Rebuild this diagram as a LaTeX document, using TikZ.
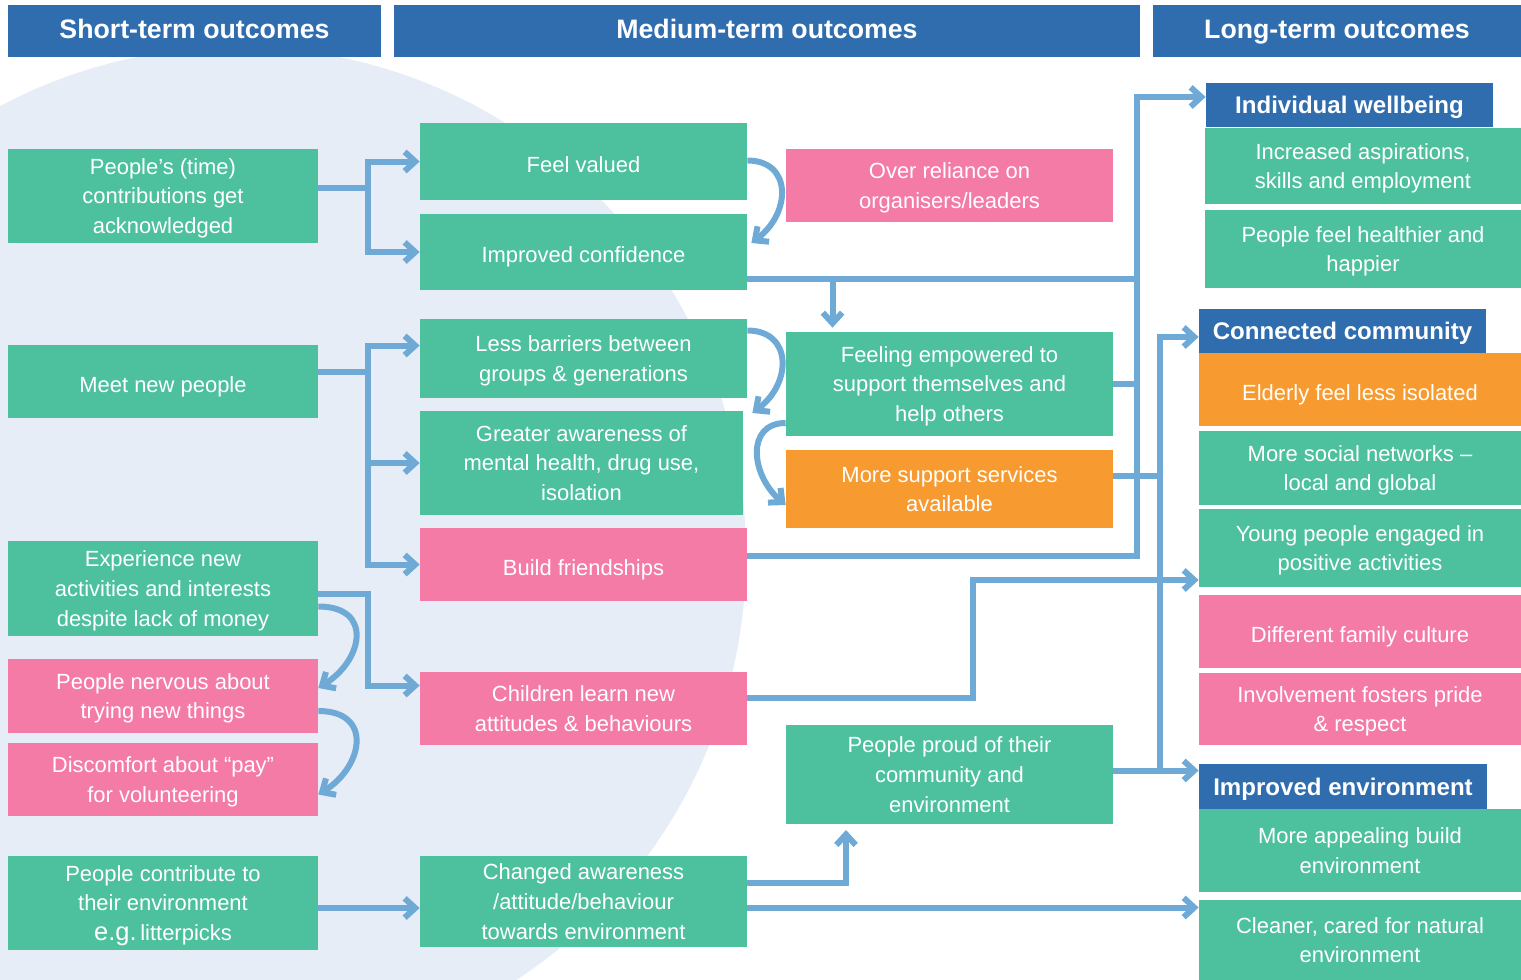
\documentclass[tikz,border=0pt]{standalone}
\usepackage{fontspec}
\setmainfont{Liberation Sans}
\usetikzlibrary{arrows.meta}

\definecolor{hdrblue}{RGB}{48,109,174}
\definecolor{boxgreen}{RGB}{77,193,158}
\definecolor{boxpink}{RGB}{243,123,165}
\definecolor{boxorange}{RGB}{247,154,47}
\definecolor{linkblue}{RGB}{111,170,214}
\definecolor{circfill}{RGB}{230,237,246}

\newlength\pu
\setlength\pu{0.02cm}

\begin{document}
\begin{tikzpicture}[x=0.02cm, y=-0.02cm,
    sz/.style 2 args={minimum width=#1\pu, minimum height=#2\pu},
    outbox/.style={fill=#1, text=white, align=center, inner sep=0pt, text depth=0pt,
        execute at begin node={\leavevmode\vrule width 0pt height 12pt depth 0pt}, font=\fontsize{12.5}{17}\selectfont},
    head/.style={fill=hdrblue, text=white, inner sep=0pt, text height=0.9em, text depth=0.05em, font=\fontsize{15.2}{18}\selectfont\bfseries},
    subhead/.style={fill=hdrblue, text=white, inner sep=0pt, text height=1.05em, text depth=0.05em, font=\fontsize{13.7}{16}\selectfont\bfseries},
    flow/.style={draw=linkblue, line width=6\pu},
    arr/.style={flow, -{Straight Barb[length=6pt,width=11pt]}}]
        \useasboundingbox (0,0) rectangle (1521,980);
        % background disc
        \begin{scope}
            \clip (0,0) rectangle (1521,980);
            \fill[circfill] (238,555) circle[radius=508];
        \end{scope}

        % column heads
        \node[head, sz={373}{52}] (hshort) at (194.5,31) {Short-term outcomes};
        \node[head, sz={746}{52}] (hmed) at (767,31) {Medium-term outcomes};
        \node[head, sz={368}{52}] (hlong) at (1337,31) {Long-term outcomes};

        % short-term
        \node[outbox=boxgreen, sz={310}{94}] (acknow) at (163,196) {People's (time)\\contributions get\\acknowledged};
        \node[outbox=boxgreen, sz={310}{73}] (meet) at (163,381.5) {Meet new people};
        \node[outbox=boxgreen, sz={310}{95}] (experience) at (163,588.5) {Experience new\\activities and interests\\despite lack of money};
        \node[outbox=boxpink, sz={310}{74}] (nervous) at (163,696) {People nervous about\\trying new things};
        \node[outbox=boxpink, sz={310}{73}] (discomfort) at (163,779.5) {Discomfort about ``pay''\\for volunteering};
        \node[outbox=boxgreen, sz={310}{94}] (contribute) at (163,903) {People contribute to\\their environment\\{\fontsize{14.5}{17}\selectfont e.g.}\,litterpicks};

        % medium-term
        \node[outbox=boxgreen, sz={327}{77}] (valued) at (583.5,161.5) {Feel valued};
        \node[outbox=boxgreen, sz={327}{76}] (confidence) at (583.5,252) {Improved confidence};
        \node[outbox=boxgreen, sz={327}{79}] (barriers) at (583.5,358.5) {Less barriers between\\groups \& generations};
        \node[outbox=boxgreen, sz={323}{104}] (awareness) at (581.5,463) {Greater awareness of\\mental health, drug use,\\isolation};
        \node[outbox=boxpink, sz={327}{73}] (friendships) at (583.5,564.5) {Build friendships};
        \node[outbox=boxpink, sz={327}{73}] (children) at (583.5,708.5) {Children learn new\\attitudes \& behaviours};
        \node[outbox=boxgreen, sz={327}{91}] (changed) at (583.5,901.5) {Changed awareness\\/attitude/behaviour\\towards environment};
        \node[outbox=boxpink, sz={327}{73}] (reliance) at (949.5,185.5) {Over reliance on\\organisers/leaders};
        \node[outbox=boxgreen, sz={327}{104}] (empowered) at (949.5,384) {Feeling empowered to\\support themselves and\\help others};
        \node[outbox=boxorange, sz={327}{78}] (services) at (949.5,489) {More support services\\available};
        \node[outbox=boxgreen, sz={327}{99}] (proud) at (949.5,774.5) {People proud of their\\community and\\environment};

        % long-term
        \node[subhead, sz={287}{44}] (hwell) at (1349.5,105) {Individual wellbeing};
        \node[outbox=boxgreen, sz={316}{76}] (aspir) at (1363,166) {Increased aspirations,\\skills and employment};
        \node[outbox=boxgreen, sz={316}{78}] (healthier) at (1363,249) {People feel healthier and\\happier};
        \node[subhead, sz={287}{44}] (hcomm) at (1342.5,331) {Connected community};
        \node[outbox=boxorange, sz={322}{73}] (elderly) at (1360,389.5) {Elderly feel less isolated};
        \node[outbox=boxgreen, sz={322}{74}] (networks) at (1360,468) {More social networks --\\local and global};
        \node[outbox=boxgreen, sz={322}{78}] (young) at (1360,548) {Young people engaged in\\positive activities};
        \node[outbox=boxpink, sz={322}{73}] (family) at (1360,631.5) {Different family culture};
        \node[outbox=boxpink, sz={322}{72}] (pride) at (1360,709) {Involvement fosters pride\\\& respect};
        \node[subhead, sz={288}{45}] (henv) at (1343,786.5) {Improved environment};
        \node[outbox=boxgreen, sz={322}{83}] (appealing) at (1360,850.5) {More appealing build\\environment};
        \node[outbox=boxgreen, sz={322}{80}] (cleaner) at (1360,940) {Cleaner, cared for natural\\environment};

        % forks out of the short-term column
        \coordinate (fork) at (368,0);
        \draw[arr] ([yshift=8\pu]acknow.east) coordinate (a1) -- (a1 -| fork) |- (valued.west);
        \draw[arr] (a1 -| fork) |- (confidence.west);
        \draw[flow] ([yshift=10\pu]meet.east) coordinate (m1) -- (m1 -| fork);
        \draw[arr] (m1 -| fork) |- ([yshift=13\pu]barriers.west);
        \draw[arr] (m1 -| fork) |- (awareness.west);
        \draw[arr] (m1 -| fork) |- (friendships.west);
        \draw[arr] ([yshift=-5\pu]experience.east) coordinate (x1) -- (x1 -| fork) |- ([yshift=23\pu]children.west);
        \draw[arr] ([yshift=-5\pu]contribute.east) coordinate (c4) -- (c4 -| changed.west);

        % loops
        \draw[arr] ([yshift=-18\pu]experience.east) .. controls +(55,0) and +(45,-28) .. ([yshift=8\pu]nervous.east);
        \draw[arr] ([yshift=-15\pu]nervous.east) .. controls +(55,0) and +(45,-28) .. ([yshift=-15\pu]discomfort.east);
        \draw[arr] ([yshift=1\pu]valued.east) .. controls +(45,0) and +(40,-30) .. ([xshift=4\pu,yshift=9\pu]confidence.east);
        \draw[arr] ([yshift=28\pu]barriers.east) .. controls +(45,0) and +(40,-30) .. ([xshift=9\pu,yshift=50\pu]awareness.east);
        \draw[arr] ([yshift=-39\pu]empowered.west) .. controls +(-40,0) and +(-35,-30) .. ([yshift=-16\pu]services.west);

        % first bus, to individual wellbeing
        \coordinate (bus1) at (1137,97);
        \draw[arr] ([yshift=9\pu]friendships.east) -| (bus1) -- (bus1 -| hwell.west);
        \draw[flow] ([yshift=-27\pu]confidence.east) coordinate (c1) -- (c1 -| bus1);
        \draw[flow] (empowered.east) -- (empowered.east -| bus1);
        \coordinate (drop) at ([xshift=-117\pu]empowered.north);
        \draw[arr] (drop |- c1) -- ([yshift=4\pu]drop);

        % second bus, to connected community
        \coordinate (bus2) at (1160,337);
        \draw[arr] ([yshift=4\pu]proud.east) coordinate (p1) -- (p1 -| henv.west);
        \draw[arr] (p1 -| bus2) -- (bus2) -- (bus2 -| hcomm.west);
        \draw[flow] ([yshift=13\pu]services.east) coordinate (s1) -- (s1 -| bus2);

        \coordinate (jog) at (973,580);
        \draw[arr] ([yshift=11\pu]children.east) -| (jog) -- (jog -| young.west);
        \coordinate (lift) at (846,830);
        \draw[arr] ([yshift=19\pu]changed.east) -| (lift);
        \draw[arr] ([yshift=-6\pu]changed.east) coordinate (c3) -- (c3 -| cleaner.west);
\end{tikzpicture}
\end{document}
